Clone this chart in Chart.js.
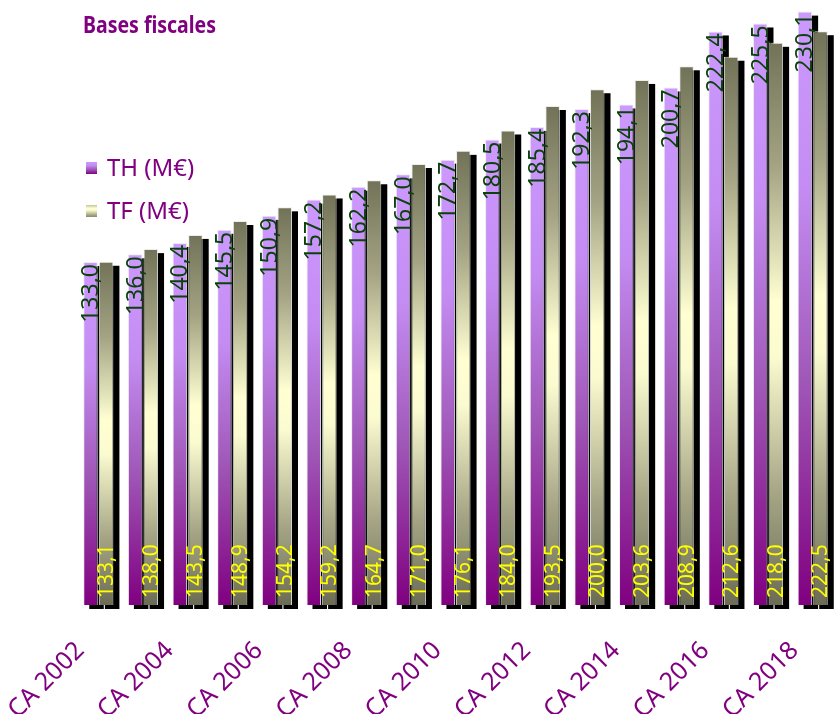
<!DOCTYPE html>
<html>
<head>
<meta charset="utf-8">
<script src="https://cdn.jsdelivr.net/npm/chart.js@4"></script>
<style>
  html, body { margin: 0; padding: 0; background: #ffffff; }
  #wrap { width: 835px; height: 714px; position: relative; }
</style>
</head>
<body>
<div id="wrap"><canvas id="c" width="835" height="714"></canvas></div>
<script>
const categories = ["CA 2002","CA 2003","CA 2004","CA 2005","CA 2006","CA 2007","CA 2008","CA 2009","CA 2010","CA 2011","CA 2012","CA 2013","CA 2014","CA 2015","CA 2016","CA 2017","CA 2018"];
const thValues = [133.0,136.0,140.4,145.5,150.9,157.2,162.2,167.0,172.7,180.5,185.4,192.3,194.1,200.7,222.4,225.5,230.1];
const tfValues = [133.1,138.0,143.5,148.9,154.2,159.2,164.7,171.0,176.1,184.0,193.5,200.0,203.6,208.9,212.6,218.0,222.5];
const seriesNames = ["TH (M€)", "TF (M€)"];
const chartTitle = "Bases fiscales";

const PURPLE = '#800080';

function thGradient(ctx, top, bottom) {
  const g = ctx.createLinearGradient(0, top, 0, bottom);
  g.addColorStop(0, '#cc99ff');
  g.addColorStop(0.3, '#c48cf2');
  g.addColorStop(0.62, '#a058b8');
  g.addColorStop(1, '#800080');
  return g;
}
function tfGradient(ctx, top, bottom) {
  const g = ctx.createLinearGradient(0, top, 0, bottom);
  g.addColorStop(0, '#727258');
  g.addColorStop(0.22, '#a4a484');
  g.addColorStop(0.46, '#ffffd2');
  g.addColorStop(0.56, '#fbfbd0');
  g.addColorStop(0.8, '#a6a686');
  g.addColorStop(1, '#6c6c56');
  return g;
}

function barBg(kind) {
  return function(context) {
    const chart = context.chart;
    const ys = chart.scales.y;
    if (!ys || context.type !== 'data') return kind === 'th' ? '#cc99ff' : '#bbbb99';
    const v = context.raw;
    const top = ys.getPixelForValue(v);
    const bottom = ys.getPixelForValue(0);
    if (!isFinite(top) || !isFinite(bottom) || bottom - top < 1) return kind === 'th' ? '#cc99ff' : '#bbbb99';
    return kind === 'th' ? thGradient(chart.ctx, top, bottom) : tfGradient(chart.ctx, top, bottom);
  };
}

const shadowPlugin = {
  id: 'barShadow',
  beforeDatasetsDraw(chart) {
    const ctx = chart.ctx;
    ctx.save();
    ctx.fillStyle = '#000000';
    chart.data.datasets.forEach((ds, i) => {
      const meta = chart.getDatasetMeta(i);
      meta.data.forEach(bar => {
        const w = bar.width;
        ctx.fillRect(bar.x - w / 2 + 6, bar.y + 4, w, bar.base - bar.y);
      });
    });
    ctx.restore();
  }
};

const labelPlugin = {
  id: 'valueLabels',
  afterDatasetsDraw(chart) {
    const ctx = chart.ctx;
    ctx.save();
    const m0 = chart.getDatasetMeta(0);
    m0.data.forEach((bar, j) => {
      const txt = thValues[j].toFixed(1).replace('.', ',');
      ctx.save();
      ctx.translate(bar.x, bar.y + 2);
      ctx.rotate(-Math.PI / 2);
      ctx.font = '23px "Noto Sans"';
      ctx.fillStyle = '#0a420a';
      ctx.textAlign = 'right';
      ctx.textBaseline = 'middle';
      ctx.fillText(txt, 0, 1);
      ctx.restore();
    });
    const m1 = chart.getDatasetMeta(1);
    m1.data.forEach((bar, j) => {
      const txt = tfValues[j].toFixed(1).replace('.', ',');
      ctx.save();
      ctx.translate(bar.x, bar.base - 7);
      ctx.rotate(-Math.PI / 2);
      ctx.font = '21px "Noto Sans"';
      ctx.fillStyle = '#ffff00';
      ctx.textAlign = 'left';
      ctx.textBaseline = 'middle';
      ctx.fillText(txt, 0, 1);
      ctx.restore();
    });
    ctx.restore();
  }
};

const decorPlugin = {
  id: 'decor',
  afterDraw(chart) {
    const ctx = chart.ctx;
    ctx.save();
    ctx.font = 'bold 24px "Noto Sans"';
    ctx.fillStyle = PURPLE;
    ctx.textAlign = 'left';
    ctx.textBaseline = 'alphabetic';
    ctx.fillText(chartTitle, 83, 33, 133);
    const items = [
      { name: seriesNames[0], y: 168, kind: 'th' },
      { name: seriesNames[1], y: 211, kind: 'tf' }
    ];
    items.forEach(it => {
      const top = it.y - 6, h = 12;
      ctx.fillStyle = it.kind === 'th' ? thGradient(ctx, top, top + h) : tfGradient(ctx, top - 6, top + h + 2);
      ctx.fillRect(86, top, 11, h);
      ctx.strokeStyle = 'rgba(255,255,255,0.9)';
      ctx.lineWidth = 1;
      ctx.strokeRect(85.5, top - 0.5, 12, h + 1);
      ctx.font = '24px "Noto Sans"';
      ctx.fillStyle = PURPLE;
      ctx.textBaseline = 'middle';
      ctx.fillText(it.name, 107, it.y + 1);
    });
    ctx.restore();
  }
};

new Chart(document.getElementById('c'), {
  type: 'bar',
  data: {
    labels: categories,
    datasets: [
      { label: seriesNames[0], data: thValues, backgroundColor: barBg('th'), borderColor: 'rgba(235,235,235,0.9)', borderWidth: 1, categoryPercentage: 0.7, barPercentage: 0.93 },
      { label: seriesNames[1], data: tfValues, backgroundColor: barBg('tf'), borderColor: 'rgba(235,235,235,0.9)', borderWidth: 1, categoryPercentage: 0.7, barPercentage: 0.93 }
    ]
  },
  options: {
    responsive: false,
    animation: false,
    layout: { padding: { left: 76, right: 0, top: 0, bottom: 0 } },
    plugins: {
      legend: { display: false },
      title: { display: false },
      tooltip: { enabled: false }
    },
    scales: {
      y: { display: false, min: 0, max: 234.6 },
      x: {
        grid: { display: false, drawTicks: false },
        border: { display: false },
        afterFit(s) { s.height = 109; s.paddingLeft = 0; s.paddingRight = 0; },
        ticks: {
          autoSkip: false,
          maxRotation: 45,
          minRotation: 45,
          padding: 31,
          labelOffset: -18,
          color: PURPLE,
          font: { family: '"Noto Sans"', size: 25 },
          callback(val, idx) { return idx % 2 === 0 ? categories[idx] : ''; }
        }
      }
    }
  },
  plugins: [shadowPlugin, labelPlugin, decorPlugin]
});
</script>
</body>
</html>
